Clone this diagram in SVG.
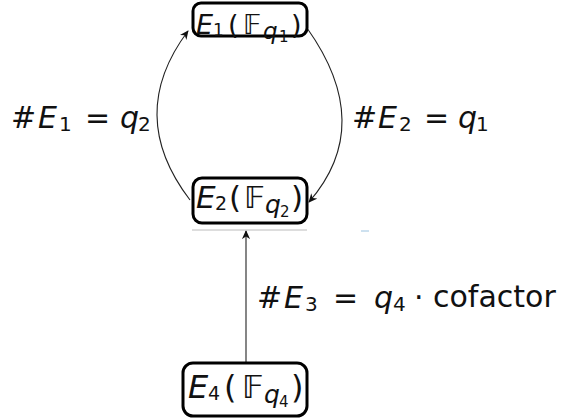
<svg xmlns="http://www.w3.org/2000/svg" width="577" height="420" viewBox="0 0 577 420">
<style>
.box{fill:#fff;stroke:#000;stroke-width:3}
.t{font-family:"DejaVu Sans","Liberation Sans",sans-serif;fill:#111}
.i{font-style:italic}
.edge{fill:none;stroke:#222;stroke-width:1.1}
</style>
<defs>
<marker id="ah" viewBox="0 0 10 10" refX="9" refY="5" markerWidth="9" markerHeight="9" markerUnits="userSpaceOnUse" orient="auto">
<path d="M0,0.5 L10,5 L0,9.5 L3,5 Z" fill="#111"/>
</marker>
</defs>
<rect width="577" height="420" fill="#fff"/>
<g id="connectors">
<path class="edge" d="M190,200 Q125,115 188,31" marker-end="url(#ah)"/>
<path class="edge" d="M307,28 Q376,125 309,202" marker-end="url(#ah)"/>
<path class="edge" d="M246,362 L246,231" stroke="#333" stroke-width="1.6" marker-end="url(#ah)"/>
</g>
<g id="artifacts">
<line x1="192" y1="230" x2="307" y2="230" stroke="#bbb" stroke-width="1"/>
<line x1="361" y1="231" x2="369" y2="231" stroke="#9cc3e0" stroke-width="1"/>
</g>
<g id="n1">
<rect class="box" x="193" y="3" width="114" height="33" rx="8"/>
<text class="t"><tspan class="i" x="196" y="34" font-size="27">E</tspan><tspan x="213" y="36" font-size="17">1</tspan><tspan x="228" y="34" font-size="27">(</tspan><tspan x="243" y="34" font-size="27">𝔽</tspan><tspan class="i" x="263" y="39" font-size="23">q</tspan><tspan x="279" y="42" font-size="15">1</tspan><tspan x="291" y="34" font-size="27">)</tspan></text>
</g>
<g id="n2">
<rect class="box" x="193" y="178" width="114" height="45" rx="9"/>
<text class="t"><tspan class="i" x="196" y="208" font-size="31">E</tspan><tspan x="215" y="210" font-size="19">2</tspan><tspan x="229" y="208" font-size="31">(</tspan><tspan x="244" y="208" font-size="31">𝔽</tspan><tspan class="i" x="265" y="213" font-size="25">q</tspan><tspan x="280" y="217" font-size="15">2</tspan><tspan x="291" y="208" font-size="31">)</tspan></text>
</g>
<g id="n4">
<rect class="box" x="183" y="363" width="124" height="53" rx="10"/>
<text class="t"><tspan class="i" x="188" y="398" font-size="32">E</tspan><tspan x="208" y="400" font-size="19">4</tspan><tspan x="224" y="398" font-size="32">(</tspan><tspan x="242" y="398" font-size="32">𝔽</tspan><tspan class="i" x="264" y="403" font-size="25">q</tspan><tspan x="279" y="407" font-size="15">4</tspan><tspan x="291" y="398" font-size="32">)</tspan></text>
</g>
<g id="labels">
<text class="t"><tspan x="11" y="128" font-size="30">#</tspan><tspan class="i" x="38" y="128" font-size="30">E</tspan><tspan x="59" y="131" font-size="20">1</tspan><tspan x="85" y="128" font-size="30">=</tspan><tspan class="i" x="120" y="128" font-size="30">q</tspan><tspan x="138" y="131" font-size="20">2</tspan></text>
<text class="t"><tspan x="352" y="128" font-size="30">#</tspan><tspan class="i" x="378" y="128" font-size="30">E</tspan><tspan x="399" y="131" font-size="20">2</tspan><tspan x="424" y="128" font-size="30">=</tspan><tspan class="i" x="458" y="128" font-size="30">q</tspan><tspan x="476" y="131" font-size="20">1</tspan></text>
<text class="t"><tspan x="257" y="308" font-size="30">#</tspan><tspan class="i" x="284" y="308" font-size="30">E</tspan><tspan x="305" y="311" font-size="20">3</tspan><tspan x="333" y="308" font-size="30">=</tspan><tspan class="i" x="374" y="308" font-size="30">q</tspan><tspan x="393" y="311" font-size="20">4</tspan><tspan x="414" y="308" font-size="30">·</tspan><tspan x="433" y="307" font-size="30">cofactor</tspan></text>
</g>
</svg>
